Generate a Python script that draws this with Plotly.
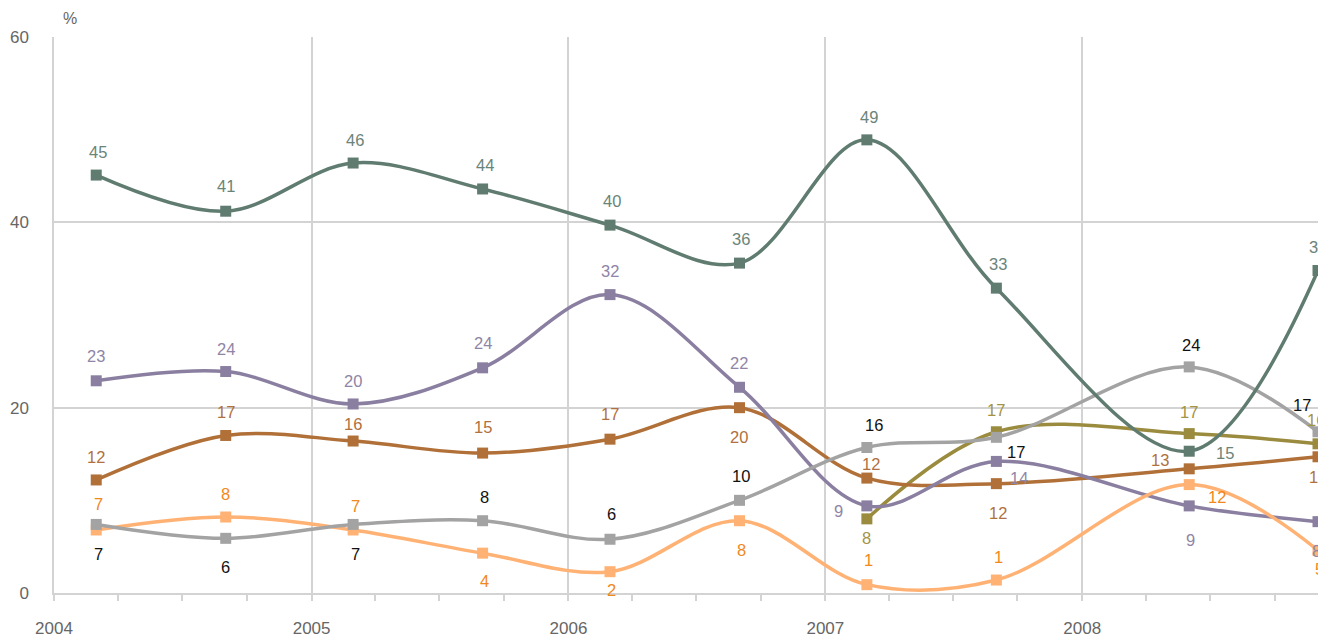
import plotly.graph_objects as go

# ---------------- data ----------------
dates = ["2004-03-01", "2004-09-01", "2005-03-01", "2005-09-01", "2006-03-01",
         "2006-09-01", "2007-03-01", "2007-09-01", "2008-06-01", "2008-12-01"]

green = [45.1, 41.2, 46.4, 43.6, 39.7, 35.6, 48.9, 32.9, 15.3, 34.8]
purple = [22.9, 23.9, 20.4, 24.3, 32.2, 22.2, 9.4, 14.2, 9.4, 7.7]
brown = [12.2, 17.0, 16.4, 15.1, 16.6, 20.0, 12.4, 11.8, 13.4, 14.7]
grey = [7.4, 5.9, 7.4, 7.8, 5.8, 10.0, 15.7, 16.8, 24.4, 17.4]
orange = [6.8, 8.2, 6.8, 4.3, 2.3, 7.8, 0.9, 1.4, 11.7, 4.6]
olive = [None, None, None, None, None, None, 8.0, 17.4, 17.2, 16.1]

y_ticks = [0, 20, 40, 60]
unit_label = "%"

# ---------------- style ----------------
FONT = "Liberation Sans, Arial, sans-serif"
A, B = -23, 29  # default label offsets above / below (px, down positive)
series = [
    dict(name="olive", y=olive, line="#9a8b3e", text="#a39345",
         off=[None] * 6 + [(0, 19), (0, -22), (0, -22), (-2, -24)]),
    dict(name="brown", y=brown, line="#b07038", text="#b07040",
         off=[(0, A), (0, A), (0, -17), (0, -26), (0, -25), (0, B), (4, -14), (2, B), (-29, -9), (0, 20)]),
    dict(name="purple", y=purple, line="#8a7fa0", text="#8f85a6",
         off=[(0, -25), (0, A), (0, A), (0, -25), (0, -24), (0, -24), (-28, 5), (23, 17), (1, 34), (-2, 29)]),
    dict(name="orange", y=orange, line="#ffb274", text="#f0881c",
         off=[(2, -26), (0, A), (2, -24), (2, 28), (2, 18), (2, B), (2, -25), (2, -23), (28, 12), (1, 19)]),
    dict(name="grey", y=grey, line="#a3a3a3", text="#111111",
         off=[(2, 30), (0, 29), (2, 30), (2, -24), (2, -25), (2, -24), (7, -23), (20, 15), (2, -22), (-16, -27)]),
    dict(name="green", y=green, line="#607c71", text="#6b8479",
         off=[(2, A), (0, -25), (2, A), (2, -24), (2, -24), (2, -24), (2, -23), (2, -24), (36, 2), (0, -24)]),
]

fig = go.Figure()
annotations = []
for s in series:
    fig.add_trace(go.Scatter(
        x=dates, y=s["y"], mode="lines+markers", name=s["name"],
        line=dict(color=s["line"], width=3.5, shape="spline", smoothing=1),
        marker=dict(symbol="square", size=11, color=s["line"]),
        connectgaps=False, showlegend=False, hoverinfo="skip",
    ))
    for d, v, o in zip(dates, s["y"], s["off"]):
        if v is None or o is None:
            continue
        annotations.append(dict(
            x=d, y=v, xref="x", yref="y", text=f"{v:.0f}", showarrow=False,
            xshift=o[0], yshift=-o[1], xanchor="center", yanchor="middle",
            font=dict(family=FONT, size=16.5, color=s["text"]),
        ))

annotations.append(dict(
    x=0, y=1, xref="paper", yref="paper", text=unit_label, showarrow=False,
    xshift=16, yshift=19, xanchor="center", yanchor="middle",
    font=dict(family=FONT, size=16, color="#666666"),
))

grid = "#d3d3d3"
fig.update_layout(
    width=1318, height=638,
    margin=dict(l=54, r=0, t=37, b=41),
    paper_bgcolor="white", plot_bgcolor="white",
    annotations=annotations,
    font=dict(family=FONT, size=17, color="#666666"),
)
fig.update_xaxes(
    type="date", range=["2004-01-01", "2008-12-01"],
    dtick="M12", tick0="2004-01-01", tickformat="%Y",
    showgrid=True, gridcolor=grid, gridwidth=1.5,
    showline=True, linecolor=grid, linewidth=2,
    ticks="outside", ticklen=6, tickcolor=grid, tickwidth=1.5,
    ticklabelstandoff=13,
    minor=dict(dtick="M3", ticks="outside", ticklen=6, tickcolor=grid, tickwidth=1.5, showgrid=False),
    zeroline=False, fixedrange=True,
)
fig.update_yaxes(
    range=[0, 60], tickvals=y_ticks,
    showgrid=True, gridcolor=grid, gridwidth=1.5,
    showline=True, linecolor=grid, linewidth=1.5,
    ticks="", ticklabelstandoff=20,
    zeroline=False, fixedrange=True,
)

fig.write_html(
    "out.html",
    config={"displayModeBar": False},
    post_script="document.body.style.margin='0';document.body.style.overflow='hidden';",
)
